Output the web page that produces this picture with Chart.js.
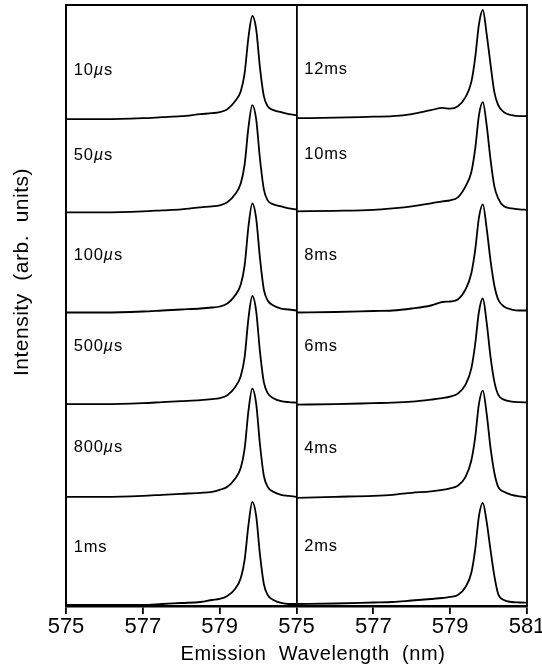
<!DOCTYPE html>
<html>
<head>
<meta charset="utf-8">
<script src="https://cdn.jsdelivr.net/npm/chart.js@4.4.1/dist/chart.umd.min.js"></script>
<style>
  html, body { margin: 0; padding: 0; background: #fff; }
  #wrap { width: 542px; height: 668px; }
</style>
</head>
<body>
<div id="wrap"><canvas id="spectra" width="542" height="668"></canvas></div>
<script>
/* Time-resolved emission spectra, two stacked panels */

// shared wavelength grid (nm)
const WAVELENGTH = [575, 576, 577, 577.5, 578, 578.5, 578.8, 579, 579.2, 579.4, 579.55,
  579.65, 579.75, 579.85, 579.95, 580.05, 580.15, 580.25, 580.4, 580.6, 580.8, 581];

// left panel: short delays, top to bottom
const LEFT_DELAYS = ['10µs', '50µs', '100µs', '500µs', '800µs', '1ms'];
const LEFT_OFFSETS = [486, 393, 293, 201.5, 109, 1];
const I_10US  = [0, 0, 1, 2, 3, 5, 6, 7, 10, 18, 28, 46, 82, 103, 90, 51, 23, 13, 9, 7, 5, 4];
const I_50US  = [0, 0, 1, 2, 3, 5, 6, 7, 10, 18, 29, 48, 85, 107, 93, 53, 23, 12, 8, 6, 4, 3];
const I_100US = [0, 0, 1, 2, 3, 4, 5, 6, 9, 17, 28, 47, 86, 109, 94, 54, 23, 12, 7, 4, 3, 2];
const I_500US = [0, 0, 1, 2, 3, 4, 5, 6, 9, 17, 28, 47, 86, 108, 93, 52, 22, 11, 6, 3, 2, 1.5];
const I_800US = [0, 0, 1, 2, 3, 4, 5, 7, 10, 18, 29, 48, 86, 108, 93, 52, 21, 10, 5, 2, 1, 0];
const I_1MS   = [0, 0, 0, 1, 2, 3, 5, 6, 9, 16, 27, 45, 80, 103, 89, 50, 21, 10, 5, 2, 1, 1];

// right panel: long delays, top to bottom
const RIGHT_DELAYS = ['12ms', '10ms', '8ms', '6ms', '4ms', '2ms'];
const RIGHT_OFFSETS = [487, 394, 293, 201, 108, 2];
const I_12MS = [0, 0.5, 1.5, 2, 4, 8, 10.3, 9.5, 12, 21, 36, 60, 94, 108, 84, 54, 26, 13, 6, 3, 2, 2];
const I_10MS = [0, 0.5, 1.5, 3, 5, 8, 10, 11, 14, 25, 39, 62, 96, 109, 86, 52, 25, 13, 5, 3, 2, 1.5];
const I_8MS  = [0, 0.5, 1.5, 2, 4, 7, 10.5, 11, 13, 23, 39, 62, 95, 108, 84, 52, 27, 13, 6, 3, 2, 2];
const I_6MS  = [0, 0.5, 1.5, 2, 3, 5, 6.5, 8, 11, 20, 36, 60, 93, 106, 82, 48, 23, 10, 5, 3, 2.5, 2.3];
const I_4MS  = [0, 1, 2, 3, 5, 6.5, 8, 9.5, 12, 21, 37, 60, 94, 107, 84, 50, 25, 11, 6, 3, 1.5, 0.5];
const I_2MS  = [0, 0.5, 1.5, 2, 3.5, 5, 6, 7, 9, 17, 31, 54, 88, 101, 82, 54, 28, 10, 4, 2, 1.5, 1.3];

const LEFT_SERIES = [I_10US, I_50US, I_100US, I_500US, I_800US, I_1MS];
const RIGHT_SERIES = [I_12MS, I_10MS, I_8MS, I_6MS, I_4MS, I_2MS];

const TICK_VALUES = [575, 577, 579, 581, 583, 585, 587];
const TICK_LABELS = ['575', '577', '579', '575', '577', '579', '581'];

const PANEL_SPAN = 6;                       // right panel sits one full range to the right
const LABEL_RISE = [49, 57, 57, 58, 49, 57]; // delay label height above its trace, per row
const FONT = "'Liberation Sans', Arial, sans-serif";

function makeSet(values, offset, shift, label, row) {
  return {
    label: label,
    data: WAVELENGTH.map((w, i) => ({ x: w + shift, y: values[i] + offset })),
    borderColor: '#000',
    borderWidth: 1.8,
    pointRadius: 0,
    fill: false,
    cubicInterpolationMode: 'monotone',
    offset: offset,
    shift: shift,
    row: row,
  };
}

const datasets = [
  ...LEFT_SERIES.map((s, i) => makeSet(s, LEFT_OFFSETS[i], 0, LEFT_DELAYS[i], i)),
  ...RIGHT_SERIES.map((s, i) => makeSet(s, RIGHT_OFFSETS[i], PANEL_SPAN, RIGHT_DELAYS[i], i)),
];

// frame around both panels plus the axis titles
const framePlugin = {
  id: 'frame',
  afterDraw(chart) {
    const { ctx, chartArea: a } = chart;
    ctx.save();
    ctx.strokeStyle = '#000';
    ctx.lineWidth = 1.8;
    ctx.beginPath();
    ctx.moveTo(a.left, a.bottom);
    ctx.lineTo(a.left, a.top);
    ctx.lineTo(a.right, a.top);
    ctx.lineTo(a.right, a.bottom);
    ctx.stroke();

    ctx.fillStyle = '#000';
    ctx.textAlign = 'center';
    ctx.textBaseline = 'middle';
    ctx.font = `20px ${FONT}`;
    ctx.letterSpacing = '0.6px';
    ctx.fillText('Emission  Wavelength  (nm)', 313, 654);

    ctx.font = `21px ${FONT}`;
    ctx.letterSpacing = '0.5px';
    ctx.translate(22, 272);
    ctx.rotate(-Math.PI / 2);
    ctx.fillText('Intensity  (arb.  units)', 0, 0);
    ctx.restore();
  }
};

// delay labels next to each trace, with an italic mu
const delayLabels = {
  id: 'delayLabels',
  afterDatasetsDraw(chart) {
    const { ctx, scales: { x, y } } = chart;
    ctx.save();
    ctx.fillStyle = '#000';
    ctx.textBaseline = 'middle';
    ctx.textAlign = 'left';
    ctx.letterSpacing = '0.8px';
    chart.data.datasets.forEach(ds => {
      let px = x.getPixelForValue(575.2 + ds.shift);
      const py = y.getPixelForValue(ds.offset + LABEL_RISE[ds.row]);
      const parts = ds.label.split('µ');
      parts.forEach((part, k) => {
        if (k > 0) {
          ctx.font = `italic 16.5px ${FONT}`;
          ctx.fillText('µ', px, py);
          px += ctx.measureText('µ').width;
        }
        ctx.font = `16.5px ${FONT}`;
        ctx.fillText(part, px, py);
        px += ctx.measureText(part).width;
      });
    });
    ctx.restore();
  }
};

new Chart(document.getElementById('spectra'), {
  type: 'line',
  data: { datasets },
  plugins: [framePlugin, delayLabels],
  options: {
    responsive: false,
    animation: false,
    layout: { padding: { top: 5, right: 15, left: 0, bottom: 0 } },
    plugins: { legend: { display: false }, tooltip: { enabled: false } },
    scales: {
      x: {
        type: 'linear',
        min: 575,
        max: 587,
        afterBuildTicks: scale => { scale.ticks = TICK_VALUES.map(v => ({ value: v })); },
        afterFit: scale => { scale.height = 62; scale.paddingLeft = 0; scale.paddingRight = 0; },
        ticks: {
          color: '#000',
          padding: 0,
          maxRotation: 0,
          autoSkip: false,
          font: { family: FONT, size: 22 },
          callback: (v, i) => TICK_LABELS[i],
        },
        grid: {
          color: ctx => (ctx.tick && ctx.tick.value === 581 ? '#000' : 'rgba(0,0,0,0)'),
          lineWidth: 1.8,
          tickColor: '#000',
          tickWidth: 1.8,
          tickLength: 8,
        },
        border: { display: true, color: '#000', width: 2.5 },
      },
      y: {
        min: 0,
        max: 600,
        afterFit: scale => { scale.width = 66; },
        ticks: { display: false },
        grid: { display: false, drawTicks: false },
        border: { display: true, color: '#000', width: 1.8 },
      },
    },
  },
});
</script>
</body>
</html>
